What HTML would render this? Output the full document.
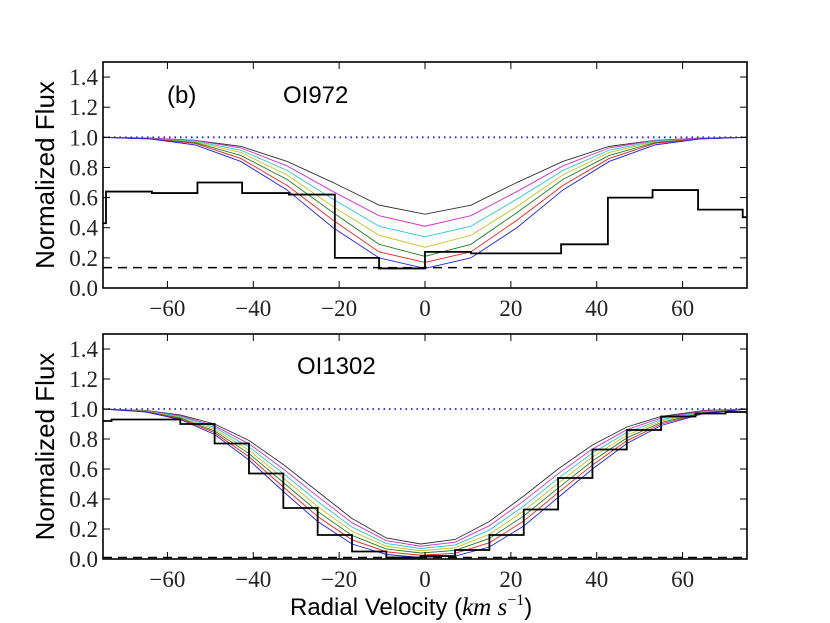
<!DOCTYPE html>
<html><head><meta charset="utf-8"><style>
body{margin:0;background:#fff;}
svg{display:block;}
.tk{font-family:"Liberation Serif","DejaVu Serif",serif;font-size:23px;fill:#222;}
.sans{font-family:"Liberation Sans","DejaVu Sans",sans-serif;}
</style></head><body>
<svg id="fig" width="830" height="623" viewBox="0 0 830 623" xmlns="http://www.w3.org/2000/svg">
<rect width="830" height="623" fill="#fff"/>
</svg>
<script>
const xTicks=[-60,-40,-20,0,20,40,60];
const yTicks=[0.0,0.2,0.4,0.6,0.8,1.0,1.2,1.4];
const modelColors=['#333333','#d030d0','#20c8d0','#c8c020','#208020','#f02020','#2020f0'];
const topV=[-75,-64.3,-53.6,-42.9,-32.1,-21.4,-10.7,0,10.7,21.4,32.1,42.9,53.6,64.3,75];
const topBlack=[1,.995,.98,.94,.84,.70,.55,.49,.55,.70,.84,.94,.98,.995,1];
const topMagenta=[1,.995,.98,.93,.81,.64,.48,.41,.48,.64,.81,.93,.98,.995,1];
const topCyan=[1,.99,.975,.915,.78,.59,.41,.34,.41,.59,.78,.915,.975,.99,1];
const topYellow=[1,.99,.97,.90,.75,.54,.35,.27,.35,.54,.75,.90,.97,.99,1];
const topGreen=[1,.99,.965,.88,.72,.50,.29,.21,.29,.50,.72,.88,.965,.99,1];
const topRed=[1,.99,.96,.86,.68,.45,.24,.17,.24,.45,.68,.86,.96,.99,1];
const topBlue=[1,.99,.95,.84,.65,.40,.20,.13,.20,.40,.65,.84,.95,.99,1];
const topEdges=[-75,-74.3,-63.6,-53,-42.6,-31.7,-21,-10.7,0,10.7,31.7,42.6,53,63.6,74,75];
const topObs=[0.43,0.64,0.63,0.70,0.63,0.62,0.20,0.13,0.24,0.23,0.29,0.60,0.65,0.52,0.47];
const topNoise=0.135;
const botV=[-75,-65,-57,-49,-41,-33,-25,-17,-9,-1,7,15,23,31,39,47,55,65,75];
const botBlack=[1,.99,.96,.90,.79,.63,.45,.27,.14,.10,.13,.25,.42,.60,.76,.88,.95,.99,1];
const botMagenta=[1,.988,.955,.888,.768,.60,.417,.242,.122,.085,.112,.222,.387,.568,.733,.862,.94,.987,1];
const botCyan=[1,.987,.95,.877,.747,.57,.383,.213,.103,.07,.093,.193,.353,.537,.707,.843,.93,.983,1];
const botYellow=[1,.985,.945,.865,.725,.54,.35,.185,.085,.055,.075,.165,.32,.505,.68,.825,.92,.98,1];
const botGreen=[1,.983,.94,.853,.703,.51,.317,.157,.067,.04,.057,.137,.287,.473,.653,.807,.91,.977,1];
const botRed=[1,.982,.935,.842,.682,.48,.283,.128,.048,.025,.038,.108,.253,.442,.627,.788,.90,.973,1];
const botBlue=[1,.98,.93,.83,.66,.45,.25,.10,.03,.01,.02,.08,.22,.41,.60,.77,.89,.97,1];
const botEdges=[-75,-73,-57,-49,-41,-33,-25,-17,-9,-1,7,15,23,31,39,47,55,63,70,75];
const botObs=[0.92,0.93,0.90,0.77,0.57,0.34,0.16,0.05,0.01,0.02,0.06,0.16,0.33,0.54,0.73,0.86,0.95,0.97,0.98];
const botNoise=0.01;

const NS='http://www.w3.org/2000/svg';
const svg=document.getElementById('fig');
function mk(tag,attrs,parent){const e=document.createElementNS(NS,tag);for(const k in attrs)e.setAttribute(k,attrs[k]);(parent||svg).appendChild(e);return e;}
const X0=103,X1=747;
function xs(v){return X0+(v+75)/150*(X1-X0);}

function panel(name,top,bot,V,models,edges,obs,noise,label,extra){
  const g=mk('g',{});
  
  
  const ys=f=>bot-f/1.5*(bot-top);
  const ref=mk('line',{x1:X0,x2:X1,y1:ys(1),y2:ys(1),stroke:'#2020f0','stroke-width':1.8,'stroke-dasharray':'1.5 4'},g);
  
  
  models.forEach((arr,i)=>{
    const p=mk('polyline',{points:arr.map((f,j)=>xs(V[j])+','+ys(f)).join(' '),fill:'none',stroke:modelColors[i],'stroke-width':0.9},g);
    
    
  });
  let pts=[];
  obs.forEach((f,i)=>{pts.push(xs(edges[i])+','+ys(f));pts.push(xs(edges[i+1])+','+ys(f));});
  const st=mk('polyline',{points:pts.join(' '),fill:'none',stroke:'#000','stroke-width':1.8},g);
  
  
  const nl=mk('line',{x1:X0,x2:X1,y1:ys(noise),y2:ys(noise),stroke:'#000','stroke-width':1.5,'stroke-dasharray':'9 6'},g);
  
  
  const fr=mk('rect',{x:X0,y:top,width:X1-X0,height:bot-top,fill:'none',stroke:'#000','stroke-width':1.6},g);
  
  
  xTicks.forEach(t=>{
    const x=xs(t);
    mk('line',{x1:x,x2:x,y1:bot,y2:bot-7,stroke:'#000','stroke-width':1},g);
    mk('line',{x1:x,x2:x,y1:top,y2:top+7,stroke:'#000','stroke-width':1},g);
    const tx=mk('text',{x:x,y:bot+28,'text-anchor':'middle',class:'tk'},g);
    tx.textContent=(t<0?'\u2212'+(-t):''+t);
    
    
  });
  yTicks.forEach(t=>{
    const y=ys(t);
    mk('line',{x1:X0,x2:X0+7,y1:y,y2:y,stroke:'#000','stroke-width':1},g);
    mk('line',{x1:X1,x2:X1-7,y1:y,y2:y,stroke:'#000','stroke-width':1},g);
    const ty=mk('text',{x:98,y:y+8,'text-anchor':'end',class:'tk'},g);
    ty.textContent=t.toFixed(1);
    
    
  });
  const yl=mk('text',{x:0,y:0,transform:'translate(54,'+((top+bot)/2)+') rotate(-90)','text-anchor':'middle',class:'sans','font-size':26},g);
  yl.textContent='Normalized Flux';
  
  
  const lb=mk('text',{x:label[1],y:label[2],class:'sans','font-size':24},g);
  lb.textContent=label[0];
  
  
  if(extra){const e=mk('text',{x:extra[1],y:extra[2],class:'sans','font-size':24},g);e.textContent=extra[0];
    
    }
}
panel('top',62,288,topV,[topBlack,topMagenta,topCyan,topYellow,topGreen,topRed,topBlue],topEdges,topObs,topNoise,['OI972',283,103],['(b)',167,103]);
panel('bottom',334,559,botV,[botBlack,botMagenta,botCyan,botYellow,botGreen,botRed,botBlue],botEdges,botObs,botNoise,['OI1302',297,374]);
const xl=mk('text',{x:290,y:615,class:'sans','font-size':24});
xl.innerHTML='Radial Velocity (<tspan font-family="Liberation Serif,serif" font-style="italic" font-size="25">km s</tspan><tspan font-family="Liberation Serif,serif" font-size="16" dy="-10">−1</tspan><tspan dy="10">)</tspan>';


</script>
</body></html>
